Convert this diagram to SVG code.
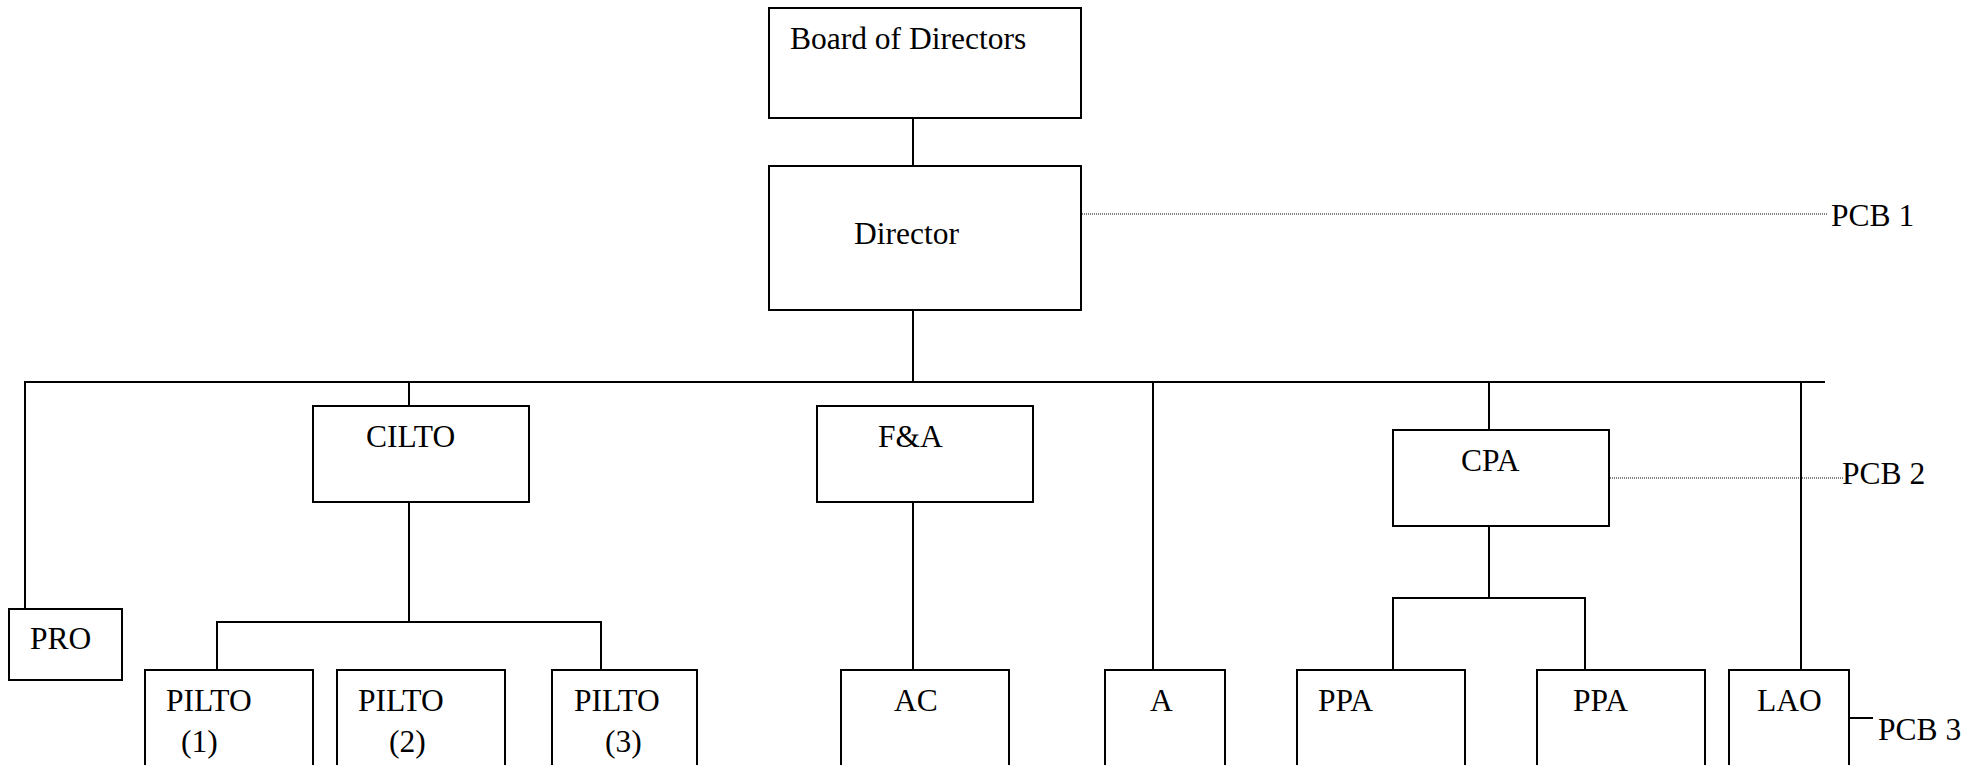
<svg xmlns="http://www.w3.org/2000/svg" width="1986" height="765" viewBox="0 0 1986 765">
<style>
.box{fill:#fff;stroke:#000;stroke-width:2}
.ln{fill:none;stroke:#000;stroke-width:2}
.dot{fill:none;stroke:#000;stroke-width:1.2;stroke-dasharray:1 1}
text{font-family:"Liberation Serif","Times New Roman",serif;font-size:31.5px;fill:#000}
</style>
<rect width="1986" height="765" fill="#fff"/>
<g id="connectors">
<line class="ln" x1="913" y1="118" x2="913" y2="166"/>
<line class="ln" x1="913" y1="310" x2="913" y2="382"/>
<line class="ln" x1="24" y1="382" x2="1825" y2="382"/>
<line class="ln" x1="25" y1="382" x2="25" y2="609"/>
<line class="ln" x1="409" y1="382" x2="409" y2="406"/>
<line class="ln" x1="409" y1="502" x2="409" y2="622"/>
<polyline class="ln" points="217,670 217,622 601,622 601,670"/>
<line class="ln" x1="913" y1="502" x2="913" y2="670"/>
<line class="ln" x1="1153" y1="382" x2="1153" y2="670"/>
<line class="ln" x1="1489" y1="382" x2="1489" y2="430"/>
<line class="ln" x1="1489" y1="526" x2="1489" y2="598"/>
<polyline class="ln" points="1393,670 1393,598 1585,598 1585,670"/>
<line class="ln" x1="1801" y1="382" x2="1801" y2="670"/>
<line class="dot" x1="1082" y1="214" x2="1828" y2="214"/>
<line class="dot" x1="1610" y1="478" x2="1844" y2="478"/>
<line class="ln" x1="1849" y1="718" x2="1873" y2="718"/>
</g>
<g id="board"><rect class="box" x="769" y="8" width="312" height="110"/><text x="790" y="49">Board of Directors</text></g>
<g id="director"><rect class="box" x="769" y="166" width="312" height="144"/><text x="854" y="244">Director</text></g>
<g id="pro"><rect class="box" x="9" y="609" width="113" height="71"/><text x="30" y="649">PRO</text></g>
<g id="cilto"><rect class="box" x="313" y="406" width="216" height="96"/><text x="366" y="447">CILTO</text></g>
<g id="fa"><rect class="box" x="817" y="406" width="216" height="96"/><text x="878" y="447">F&amp;A</text></g>
<g id="cpa"><rect class="box" x="1393" y="430" width="216" height="96"/><text x="1461" y="471">CPA</text></g>
<g id="pilto1"><rect class="box" x="145" y="670" width="168" height="140"/><text x="166" y="711">PILTO</text><text x="181" y="752">(1)</text></g>
<g id="pilto2"><rect class="box" x="337" y="670" width="168" height="140"/><text x="358" y="711">PILTO</text><text x="389" y="752">(2)</text></g>
<g id="pilto3"><rect class="box" x="552" y="670" width="145" height="140"/><text x="574" y="711">PILTO</text><text x="605" y="752">(3)</text></g>
<g id="ac"><rect class="box" x="841" y="670" width="168" height="140"/><text x="894" y="711">AC</text></g>
<g id="a"><rect class="box" x="1105" y="670" width="120" height="140"/><text x="1150" y="711">A</text></g>
<g id="ppa1"><rect class="box" x="1297" y="670" width="168" height="140"/><text x="1318" y="711">PPA</text></g>
<g id="ppa2"><rect class="box" x="1537" y="670" width="168" height="140"/><text x="1573" y="711">PPA</text></g>
<g id="lao"><rect class="box" x="1729" y="670" width="120" height="140"/><text x="1757" y="711">LAO</text></g>
<g id="pcb"><text x="1831" y="226">PCB 1</text><text x="1842" y="484">PCB 2</text><text x="1878" y="740">PCB 3</text></g>
</svg>
